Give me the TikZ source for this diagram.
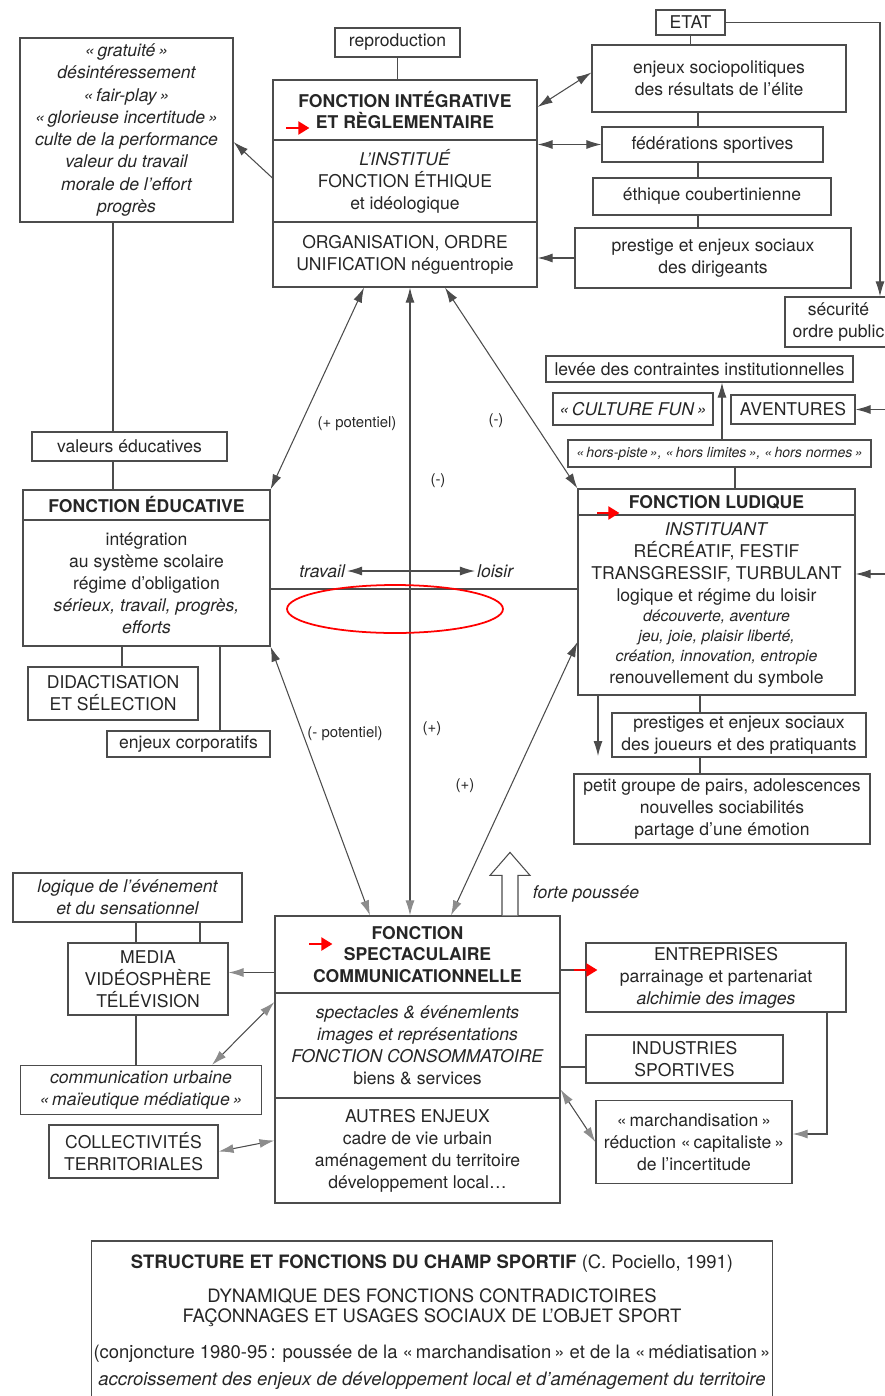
\documentclass[tikz,border=0pt]{standalone}
\usepackage{fontspec}
\setmainfont{TeX Gyre Heros}
\usetikzlibrary{arrows.meta,calc,positioning}

\newcommand{\smit}[1]{{\fontsize{9}{11}\selectfont\itshape #1}}

\begin{document}
\begin{tikzpicture}[x=0.02cm, y=-0.02cm,
  Dk/.tip={Latex[length=3mm,width=1.8mm]},
  Gy/.tip={Latex[length=3mm,width=1.8mm,color=black!45]},
  box/.style={draw=black!70, line width=0.7pt, align=center, inner sep=1pt, text=black!85,
    font=\fontsize{10}{12.5}\selectfont},
  head/.style={box, font=\fontsize{10}{12}\selectfont\bfseries},
  itbox/.style={box, font=\fontsize{10}{12.5}\selectfont\itshape},
  lbl/.style={inner sep=1pt, text=black!85, font=\fontsize{8.5}{10}\selectfont},
  link/.style={draw=black!70, line width=0.6pt},
  redmark/.style={red, line width=1.2pt, -{Triangle[length=2.2mm,width=2.6mm]}}
]
\useasboundingbox (0,0) rectangle (885,1396);

\coordinate (lx) at (113,0);
\coordinate (cx) at (698,0);
\coordinate (ax) at (722,0);
\coordinate (bx) at (735,0);
\coordinate (dx) at (598,0);
\coordinate (ex) at (700,0);
\coordinate (vx) at (410,0);
\coordinate (mx1) at (136,0);
\coordinate (mx2) at (200,0);

% integrative
\node[itbox, font=\fontsize{10}{12.7}\selectfont\itshape, minimum width=4.26cm, minimum height=3.68cm] (val) at (126.5,130)
  {«\,gratuité\,»\\ désintéressement\\ «\,fair-play\,»\\ «\,glorieuse incertitude\,»\\ culte de la performance\\ valeur du travail\\ morale de l'effort\\ progrès};
\node[box, minimum width=2.5cm, minimum height=0.58cm] (repro) at (397.5,42.5) {reproduction};
\node[head, minimum width=5.28cm, minimum height=1.2cm] (integT) at (405,110) {FONCTION INTÉGRATIVE\\ ET RÈGLEMENTAIRE};
\node[box, minimum width=5.28cm, minimum height=1.64cm] (integM) at (405,181) {\textit{L'INSTITUÉ}\\ FONCTION ÉTHIQUE\\ et idéologique};
\node[box, minimum width=5.28cm, minimum height=1.3cm] (integB) at (405,254.5) {ORGANISATION, ORDRE\\ UNIFICATION néguentropie};

\node[box, minimum width=1.38cm, minimum height=0.5cm] (etat) at (690.5,22.5) {ETAT};
\node[box, minimum width=5.08cm, minimum height=1.34cm] (enjPol) at (719,78.5) {enjeux sociopolitiques\\ des résultats de l'élite};
\node[box, minimum width=4.42cm, minimum height=0.7cm] (fed) at (712.5,144.5) {fédérations sportives};
\node[box, minimum width=4.76cm, minimum height=0.74cm] (ethiq) at (712,196.5) {éthique coubertinienne};
\node[box, minimum width=5.52cm, minimum height=1.2cm] (prestDir) at (713,258) {prestige et enjeux sociaux\\ des dirigeants};
\node[box, minimum width=2.14cm, minimum height=1cm] (secu) at (838.5,322) {sécurité\\ ordre public};

\draw[link] (repro) -- (repro.south |- integT.north);
\draw[link, -Dk] ($(integM.west)+(0,-3)$) -- ($(val.east)+(0,12)$);
\draw[link] (etat.south) -- (etat.south |- enjPol.north);
\draw[link, -Dk] (etat.east) -| ($(secu.north)+(41.5,0)$);
\draw[link, Dk-Dk] ($(integT.east)+(0,-3)$) -- ($(enjPol.west)+(0,-6)$);
\draw[link, Dk-Dk] (integM.east |- fed.west) -- (fed.west);
\foreach \a/\b in {enjPol/fed, fed/ethiq, ethiq/prestDir}
  \draw[link] (\a.south -| cx) -- (\b.north -| cx);
\draw[link, -Dk] (prestDir.west) -- (prestDir.west -| integB.east);

% educative
\node[box, minimum width=3.9cm, minimum height=0.58cm] (valEduc) at (129.5,446.5) {valeurs éducatives};
\node[head, minimum width=4.94cm, minimum height=0.6cm] (educT) at (146.5,505) {FONCTION ÉDUCATIVE};
\node[box, minimum width=4.94cm, minimum height=2.52cm] (educM) at (146.5,583)
  {intégration\\ au système scolaire\\ régime d'obligation\\ \textit{sérieux, travail, progrès,}\\ \textit{efforts}};
\node[box, minimum width=3.4cm, minimum height=1.06cm] (didac) at (113,693.5) {DIDACTISATION\\ ET SÉLECTION};
\node[box, minimum width=3.26cm, minimum height=0.52cm] (enjCorp) at (188.5,744) {enjeux corporatifs};

\draw[link] (val.south -| lx) -- (valEduc.north -| lx);
\draw[link] (valEduc.south -| lx) -- (educT.north -| lx);
\draw[link] ($(educM.south)+(-24.5,0)$) -- ($(didac.north)+(9,0)$);
\draw[link] ($(educM.south)+(73.5,0)$) -- ($(enjCorp.north)+(31.5,0)$);

% ludique
\node[box, minimum width=6.14cm, minimum height=0.52cm] (levee) at (699.5,369) {levée des contraintes institutionnelles};
\node[itbox, minimum width=3.2cm, minimum height=0.64cm] (cfun) at (633,409) {«\,CULTURE FUN\,»};
\node[box, minimum width=2.48cm, minimum height=0.58cm] (aven) at (793,409.5) {AVENTURES};
\node[itbox, font=\fontsize{8}{10}\selectfont\itshape, minimum width=6.06cm, minimum height=0.54cm] (horsP) at (719.5,453.5)
  {«\,hors-piste\,», «\,hors limites\,», «\,hors normes\,»};
\node[head, minimum width=5.54cm, minimum height=0.52cm] (ludT) at (716.5,502) {FONCTION LUDIQUE};
\node[box, minimum width=5.54cm, minimum height=3.6cm] (ludM) at (716.5,605)
  {\textit{INSTITUANT}\\ RÉCRÉATIF, FESTIF\\ TRANSGRESSIF, TURBULANT\\ logique et régime du loisir\\[-1.2pt]
   \smit{découverte, aventure}\\[-1.2pt] \smit{jeu, joie, plaisir liberté,}\\[-1.2pt] \smit{création, innovation, entropie}\\ renouvellement du symbole};
\node[box, minimum width=5.08cm, minimum height=0.88cm] (presJ) at (739,735) {prestiges et enjeux sociaux\\ des joueurs et des pratiquants};
\node[box, minimum width=5.92cm, minimum height=1.4cm] (petit) at (722,809) {petit groupe de pairs, adolescences\\ nouvelles sociabilités\\ partage d'une émotion};

\coordinate (rA) at (885,409.5);
\coordinate (rB) at (885,574);
\coordinate (dEnd) at (598,756);
\draw[link, -Dk] (horsP.north -| ax) -- (levee.south -| ax);
\draw[link] (horsP.south -| bx) -- (ludT.north -| bx);
\draw[link, -Dk] (rA) -- (aven.east);
\draw[link, -Dk] (rB) -- (rB -| ludM.east);
\draw[link, -Dk] (ludM.south -| dx) -- (dEnd);
\draw[link] (ludM.south -| ex) -- (presJ.north -| ex);
\draw[link] (presJ.south -| ex) -- (petit.north -| ex);

% spectaculaire
\node[head, font=\fontsize{10}{12.2}\selectfont\bfseries, minimum width=5.7cm, minimum height=1.54cm] (spT) at (417.5,954.5)
  {FONCTION\\ SPECTACULAIRE\\ COMMUNICATIONNELLE};
\node[box, minimum width=5.7cm, minimum height=2.1cm] (spM) at (417.5,1045.5)
  {\textit{spectacles \& événemlents}\\ \textit{images et représentations}\\ \textit{FONCTION CONSOMMATOIRE}\\ biens \& services};
\node[box, minimum width=5.7cm, minimum height=2.1cm] (spB) at (417.5,1150.5)
  {AUTRES ENJEUX\\ cadre de vie urbain\\ aménagement du territoire\\ développement local\ldots};

\node[itbox, minimum width=4.58cm, minimum height=0.98cm] (logEv) at (127.5,897.5) {logique de l'événement\\ et du sensationnel};
\node[box, minimum width=3.2cm, minimum height=1.44cm] (media) at (148,979) {MEDIA\\ VIDÉOSPHÈRE\\ TÉLÉVISION};
\node[itbox, minimum width=4.82cm, minimum height=0.98cm] (comm) at (141,1090) {communication urbaine\\ «\,maïeutique médiatique\,»};
\node[box, minimum width=3.38cm, minimum height=1.06cm] (coll) at (133.5,1151.5) {COLLECTIVITÉS\\ TERRITORIALES};

\node[box, minimum width=5.2cm, minimum height=1.38cm] (entr) at (716,977.5) {ENTREPRISES\\ parrainage et partenariat\\ \textit{alchimie des images}};
\node[box, minimum width=3.94cm, minimum height=0.96cm] (indus) at (684.5,1059) {INDUSTRIES\\ SPORTIVES};
\node[box, minimum width=3.92cm, minimum height=1.66cm] (march) at (694,1142) {«\,marchandisation\,»\\ réduction «\,capitaliste\,»\\ de l'incertitude};

\draw[link] (logEv.south -| mx1) -- (media.north -| mx1);
\draw[link] (logEv.south -| mx2) -- (media.north -| mx2);
\coordinate (mA) at ($(spT.west)+(0,18)$);
\draw[link, -Gy] (mA) -- (mA -| media.east);
\draw[link] (media.south -| mx1) -- (comm.north -| mx1);
\draw[link, Gy-Gy] ($(spM.west)+(0,-43.5)$) -- ($(comm.north)+(71,0)$);
\draw[link, Gy-Gy] (coll.east) -- ($(spB.west)+(0,-10)$);

\coordinate (eA) at ($(spT.east)+(0,15.5)$);
\draw[link] (eA) -- (eA -| entr.west);
\coordinate (iA) at ($(spM.east)+(0,21.5)$);
\draw[link] (iA) -- (iA -| indus.west);
\draw[link, Gy-Gy] ($(spM.east)+(0,44)$) -- (march.west);
\draw[link, -Gy] ($(entr.south)+(111,0)$) |- ($(march.east)+(0,-8)$);

% centre
\draw[link, Dk-Dk] ($(integB.south)+(-41,0)$) -- (educT.north east);
\draw[link, Dk-Dk] ($(integB.south)+(40,0)$) -- (ludT.north west);
\draw[link, Dk-Gy] (integB.south -| vx) -- (spT.north -| vx);
\draw[link, Dk-Gy] (educM.south east) -- ($(spT.north)+(-47.5,0)$);
\draw[link, Dk-Gy] ($(ludM.west)+(0,37)$) -- ($(spT.north)+(33.5,0)$);
\draw[link] ($(educM.east)+(0,6)$) -- ($(ludM.west)+(0,-16)$);

\coordinate (tl) at (410,571);
\node[lbl, font=\fontsize{10}{12}\selectfont\itshape, left=1.26cm of tl] (trav) {travail};
\node[lbl, font=\fontsize{10}{12}\selectfont\itshape, right=1.3cm of tl] (lois) {loisir};
\draw[link, -Dk] (tl) -- (trav);
\draw[link, -Dk] (tl) -- (lois);

\foreach \x/\y/\t [count=\i] in {357/424/(+ potentiel), 496/421/(-), 438/481/(-),
    345/734/(- potentiel), 432/729/(+), 465/786/(+)}
  \node[lbl] (sign\i) at (\x,\y) {\t};

\draw[link, fill=white] ($(spT.north)+(84.5,0)$) -- ++(0,-40) -- ++(-12,0) -- ++(20,-23)
  -- ++(20,23) -- ++(-12,0) -- ++(0,40);
\node[lbl, font=\fontsize{10}{12}\selectfont\itshape] (fp) at (586,894) {forte poussée};

% red marks
\draw[redmark] ($(integT.west)+(14,18)$) -- ++(23,0);
\draw[redmark] ($(ludT.west)+(20,11)$) -- ++(22,0);
\draw[redmark] ($(spT.west)+(35,-10.5)$) -- ++(23,0);
\draw[redmark] ($(entr.west)+(-11,-7.5)$) -- ++(23,0);
\draw[red, line width=1pt] (395,609) ellipse [x radius=2.16cm, y radius=0.48cm];

% caption
\node[box, font=\fontsize{10.5}{11.3}\selectfont, minimum width=13.56cm, minimum height=3.24cm] (cap) at (432,1322)
  {\textbf{STRUCTURE ET FONCTIONS DU CHAMP SPORTIF} (C.~Pociello, 1991)\\[8pt]
   DYNAMIQUE DES FONCTIONS CONTRADICTOIRES\\ FAÇONNAGES ET USAGES SOCIAUX DE L'OBJET SPORT\\[9pt]
   (conjoncture 1980-95\,: poussée de la «\,marchandisation\,» et de la «\,médiatisation\,»\\[4pt]
   \textit{accroissement des enjeux de développement local et d'aménagement du territoire}};
\end{tikzpicture}
\end{document}
